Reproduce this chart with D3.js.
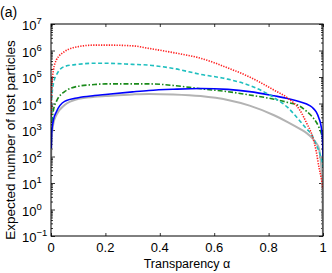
<!DOCTYPE html>
<html>
<head>
<meta charset="utf-8">
<script src="https://cdn.jsdelivr.net/npm/d3@7"></script>
<style>
  body { margin: 0; background: #fff; }
  svg { font-family: "Liberation Sans", Arial, sans-serif; }
</style>
</head>
<body>
<div id="chart"></div>
<script>
// transparency values (x)
var alpha = [0.001, 0.0025, 0.009, 0.02, 0.05, 0.1, 0.16, 0.2, 0.3, 0.36, 0.45, 0.55,
             0.65, 0.73, 0.82, 0.87, 0.915, 0.94, 0.96, 0.975, 0.985, 0.993, 0.998, 1];

// expected number of lost particles
var red   = [3.2e3, 4.3e4, 1.8e5, 4.4e5, 9.1e5, 1.4e6, 1.6e6, 1.6e6, 1.5e6, 1.2e6, 8.3e5, 5.1e5,
             2.2e5, 1.0e5, 3.2e4, 1.6e4, 5.6e3, 1.8e3, 6.3e2, 1.6e2, 40, 16, 8, 6];
var cyan  = [2.5e3, 1.35e4, 5.8e4, 1.2e5, 2.5e5, 3.0e5, 3.3e5, 3.3e5, 3.0e5, 2.8e5, 2.1e5, 1.26e5,
             8.3e4, 4.8e4, 1.66e4, 7.1e3, 2.2e3, 1.1e3, 6.3e2, 2.8e2, 1.6e2, 90, 56, 40];
var green = [3.2e2, 1.3e3, 5.6e3, 1.2e4, 2.8e4, 4.5e4, 5.2e4, 5.5e4, 5.5e4, 5.5e4, 4.8e4, 3.6e4,
             2.8e4, 2.1e4, 1.45e4, 1.1e4, 7.9e3, 5.0e3, 3.2e3, 2.0e3, 1.26e3, 7.8e2, 5.0e2, 4.0e2];
var blue  = [2.0e2, 7.8e2, 2.4e3, 4.9e3, 1.2e4, 1.66e4, 2.0e4, 2.2e4, 2.75e4, 3.1e4, 3.45e4, 3.7e4,
             3.4e4, 2.8e4, 1.95e4, 1.55e4, 1.17e4, 9.5e3, 7.2e3, 4.8e3, 2.8e3, 1.4e3, 5.0e2, 1.0e2];
var gray  = [1.0e2, 5.0e2, 1.8e3, 3.7e3, 8.7e3, 1.5e4, 1.78e4, 1.9e4, 2.2e4, 2.3e4, 2.2e4, 1.9e4,
             1.35e4, 8.3e3, 3.6e3, 2.0e3, 1.1e3, 7.6e2, 5.0e2, 3.2e2, 2.0e2, 50, 4, 0.06];

var xTicks = [0, 0.2, 0.4, 0.6, 0.8, 1];
var yExps = [-1, 0, 1, 2, 3, 4, 5, 6, 7];

var series = [
    { name: "gray",  values: gray,  color: "#b3b3b3", width: 2,   dash: null },
    { name: "green", values: green, color: "#1a8a1a", width: 1.6, dash: "5,2,1.5,2" },
    { name: "blue",  values: blue,  color: "#0000ff", width: 1.6, dash: null },
    { name: "cyan",  values: cyan,  color: "#1fbfbf", width: 1.6, dash: "4,2.5" },
    { name: "red",   values: red,   color: "#ff2020", width: 1.6, dash: "1.3,1.3" }
];

var width = 332, height = 273;
var margin = { top: 24, right: 9, bottom: 37, left: 51 };
var w = width - margin.left - margin.right,
    h = height - margin.top - margin.bottom;

var svg = d3.select("#chart").append("svg")
    .attr("width", width)
    .attr("height", height);

var g = svg.append("g")
    .attr("transform", "translate(" + margin.left + "," + margin.top + ")");

var x = d3.scaleLinear().domain([0, 1]).range([0, w]);
var y = d3.scaleLog().domain([0.1, 1e7]).range([h, 0]);

// minor log ticks
var minor = [];
yExps.slice(0, -1).forEach(function(e) {
    for (var k = 2; k <= 9; k++) minor.push(k * Math.pow(10, e));
});
var major = yExps.map(function(e) { return Math.pow(10, e); });

function styleAxis(sel) {
    sel.select(".domain").remove();
    sel.selectAll("line").attr("stroke", "#000").attr("stroke-width", 0.8);
    sel.selectAll("text").remove();
}

g.append("g").call(d3.axisLeft(y).tickValues(major).tickSize(-4)).call(styleAxis);
g.append("g").call(d3.axisLeft(y).tickValues(minor).tickSize(-2)).call(styleAxis);
g.append("g").attr("transform", "translate(" + w + ",0)")
    .call(d3.axisRight(y).tickValues(major).tickSize(-4)).call(styleAxis);
g.append("g").attr("transform", "translate(" + w + ",0)")
    .call(d3.axisRight(y).tickValues(minor).tickSize(-2)).call(styleAxis);
g.append("g").attr("transform", "translate(0," + h + ")")
    .call(d3.axisBottom(x).tickValues(xTicks).tickSize(-3)).call(styleAxis);
g.append("g")
    .call(d3.axisTop(x).tickValues(xTicks).tickSize(-3)).call(styleAxis);

// curves
g.append("clipPath").attr("id", "clip")
    .append("rect").attr("width", w).attr("height", h);

var line = d3.line()
    .x(function(d) { return x(d[0]); })
    .y(function(d) { return y(d[1]); })
    .curve(d3.curveMonotoneX);

g.append("g").attr("clip-path", "url(#clip)")
    .selectAll("path")
    .data(series)
    .enter().append("path")
    .attr("fill", "none")
    .attr("stroke", function(d) { return d.color; })
    .attr("stroke-width", function(d) { return d.width; })
    .attr("stroke-dasharray", function(d) { return d.dash; })
    .attr("d", function(d) { return line(d.values.map(function(v, i) { return [alpha[i], v]; })); });

// frame
g.append("rect")
    .attr("width", w).attr("height", h)
    .attr("fill", "none").attr("stroke", "#000").attr("stroke-width", 1);

// y tick labels 10^n
var yl = g.selectAll(".ylab").data(yExps).enter().append("text")
    .attr("x", -29)
    .attr("y", function(d) { return y(Math.pow(10, d)) + 6; })
    .attr("font-size", 13);
yl.append("tspan").text("10");
yl.append("tspan").attr("dy", -6).attr("font-size", 9.5)
    .text(function(d) { return d < 0 ? "\u2212" + (-d) : d; });

// x tick labels
g.selectAll(".xlab").data(xTicks).enter().append("text")
    .attr("x", function(d) { return x(d); })
    .attr("y", h + 16)
    .attr("text-anchor", "middle")
    .attr("font-size", 13)
    .text(function(d) { return d; });

g.append("text")
    .attr("x", w / 2)
    .attr("y", h + 32)
    .attr("text-anchor", "middle")
    .attr("font-size", 12.5)
    .text("Transparency \u03b1");

svg.append("text")
    .attr("transform", "translate(15," + (margin.top + h / 2 + 10) + ") rotate(-90)")
    .attr("text-anchor", "middle")
    .attr("font-size", 13.5)
    .text("Expected number of lost particles");

svg.append("text")
    .attr("x", 0)
    .attr("y", 17)
    .attr("font-size", 14)
    .text("(a)");
</script>
</body>
</html>
